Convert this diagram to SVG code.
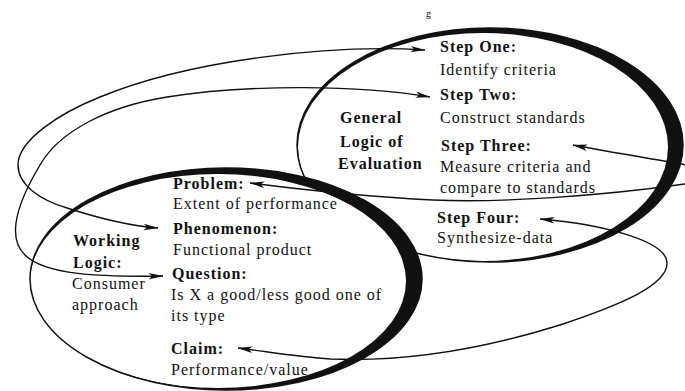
<svg xmlns="http://www.w3.org/2000/svg" width="685" height="391" viewBox="0 0 685 391">
  <defs>
    <marker id="ah" viewBox="0 0 14 7" markerWidth="15" markerHeight="7.5" refX="13.5" refY="3.5" markerUnits="userSpaceOnUse" orient="auto-start-reverse">
      <path d="M0,0.5 L14,3.5 L0,6.5 L3.5,3.5 z" fill="#111"/>
    </marker>
  </defs>
  <style>
    .band { fill: #111; }
    .hole { fill: #fff; }
    .rim { fill: none; stroke: #111; stroke-width: 1.5; }
    .conn { fill: none; stroke: #111; stroke-width: 1.4; marker-start: url(#ah); marker-end: url(#ah); }
    text { font-family: "Liberation Serif", "Times New Roman", serif; font-size: 16px; fill: #111; letter-spacing: 1px; }
    .b { font-weight: bold; letter-spacing: 1px; }
    .tiny { font-size: 10px; letter-spacing: 0; }
  </style>
  <rect width="685" height="391" fill="#fff"/>

  <text class="tiny" x="426" y="17">g</text>

  <g id="general-logic">
    <ellipse class="band" cx="490" cy="145" rx="193" ry="117"/>
    <ellipse class="hole" cx="483" cy="147" rx="185" ry="114"/>
    <ellipse class="rim" cx="490" cy="145" rx="193" ry="117"/>
  </g>

  <g id="working-logic">
    <ellipse class="band" cx="226" cy="279" rx="196" ry="111"/>
    <ellipse class="hole" cx="218" cy="281" rx="188" ry="107"/>
    <ellipse class="rim" cx="226" cy="279" rx="196" ry="111"/>
  </g>

  <g id="connectors">
    <path class="conn" d="M425,50 C330,44 190,60 100,97 C60,113 18,140 18,165 C18,185 40,200 67,208 C95,217 130,226 158,228"/>
    <path class="conn" d="M430,97 C360,85 250,84 167,97 C110,106 60,130 40,165 C22,195 4,235 25,255 C45,275 100,277 163,276"/>
    <path class="conn" d="M573,145 C640,158 700,165 712,172 C720,178 705,182 685,184 C600,196 500,203 433,200 C350,196 290,188 250,183"/>
    <path class="conn" d="M540,219 C600,224 665,240 667,262 C669,285 620,305 560,325 C480,350 400,362 330,359 C300,357 270,352 238,348"/>
  </g>

  <g id="general-label">
    <text class="b" x="340" y="123">General</text>
    <text class="b" x="340" y="147">Logic of</text>
    <text class="b" x="338" y="169">Evaluation</text>
  </g>
  <g id="step-one">
    <text class="b" x="440" y="52">Step One:</text>
    <text x="440" y="75">Identify criteria</text>
  </g>
  <g id="step-two">
    <text class="b" x="440" y="100">Step Two:</text>
    <text x="440" y="123">Construct standards</text>
  </g>
  <g id="step-three">
    <text class="b" x="441" y="151">Step Three:</text>
    <text x="440" y="172">Measure criteria and</text>
    <text x="440" y="193">compare to standards</text>
  </g>
  <g id="step-four">
    <text class="b" x="437" y="223">Step Four:</text>
    <text x="437" y="243">Synthesize-data</text>
  </g>

  <g id="working-label">
    <text class="b" x="73" y="246">Working</text>
    <text class="b" x="73" y="268">Logic:</text>
    <text x="72" y="289">Consumer</text>
    <text x="72" y="310">approach</text>
  </g>
  <g id="problem">
    <text class="b" x="173" y="189">Problem:</text>
    <text x="173" y="209">Extent of performance</text>
  </g>
  <g id="phenomenon">
    <text class="b" x="173" y="234">Phenomenon:</text>
    <text x="173" y="255">Functional product</text>
  </g>
  <g id="question">
    <text class="b" x="172" y="279">Question:</text>
    <text x="171" y="300">Is X a good/less good one of</text>
    <text x="171" y="321">its type</text>
  </g>
  <g id="claim">
    <text class="b" x="171" y="354">Claim:</text>
    <text x="171" y="375">Performance/value</text>
  </g>
</svg>
